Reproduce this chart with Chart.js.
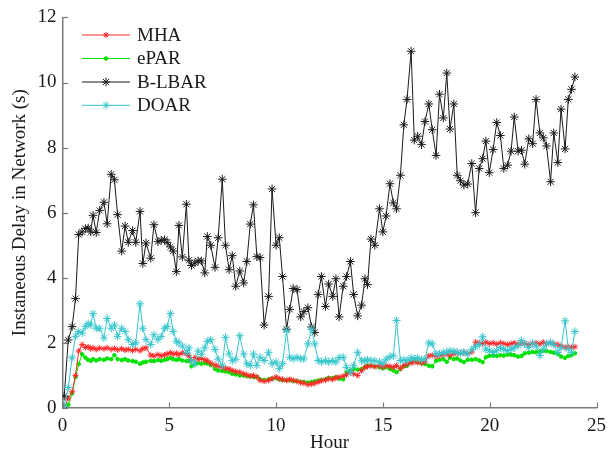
<!DOCTYPE html>
<html><head><meta charset="utf-8">
<script src="https://cdn.jsdelivr.net/npm/chart.js@4.4.0/dist/chart.umd.min.js"></script>
<style>html,body{margin:0;padding:0;background:#fff}#wrap{width:613px;height:457px;position:relative}</style>
</head><body><div id="wrap"><canvas id="c" width="613" height="457"></canvas></div>
<script>
const hours = [0.08,0.27,0.45,0.61,0.76,0.92,1.07,1.2,1.32,1.43,
1.58,1.74,1.94,2.09,2.28,2.43,2.58,2.77,2.93,3.08,
3.28,3.43,3.63,3.76,3.91,4.13,4.28,4.47,4.62,4.78,
4.9,5.05,5.18,5.33,5.45,5.61,5.8,5.92,6.04,6.2,
6.35,6.5,6.66,6.78,6.94,7.14,7.29,7.48,7.63,7.8,
7.95,8.11,8.3,8.48,8.63,8.79,8.94,9.1,9.25,9.44,
9.65,9.81,10.0,10.15,10.3,10.49,10.64,10.8,10.98,11.15,
11.3,11.49,11.66,11.81,11.97,12.12,12.31,12.46,12.65,12.8,
12.95,13.14,13.3,13.48,13.63,13.82,14.0,14.16,14.28,14.44,
14.62,14.84,15.0,15.15,15.33,15.49,15.64,15.82,15.98,16.13,
16.32,16.47,16.63,16.81,16.97,17.15,17.31,17.49,17.65,17.83,
17.99,18.14,18.32,18.48,18.63,18.79,18.97,19.16,19.34,19.51,
19.67,19.82,19.98,20.16,20.33,20.5,20.66,20.84,21.0,21.15,
21.33,21.49,21.64,21.83,22.01,22.17,22.35,22.51,22.66,22.85,
23.0,23.19,23.34,23.53,23.68,23.83,23.99];

const mha = [0.0,0.3,0.5,1.0,1.75,1.95,1.86,1.88,1.82,1.85,
1.8,1.84,1.82,1.85,1.8,1.83,1.79,1.82,1.78,1.8,
1.77,1.8,1.76,1.82,1.85,1.62,1.6,1.64,1.6,1.63,
1.66,1.7,1.65,1.68,1.64,1.7,1.66,1.6,1.45,1.55,
1.5,1.52,1.48,1.45,1.38,1.32,1.28,1.25,1.22,1.2,
1.15,1.12,1.1,1.05,1.02,0.98,1.0,0.95,0.85,0.82,
0.85,0.9,0.95,0.9,0.88,0.85,0.88,0.85,0.82,0.78,
0.76,0.72,0.74,0.76,0.8,0.84,0.86,0.9,0.88,0.92,
0.95,0.98,1.02,1.1,1.05,1.0,1.15,1.25,1.28,1.3,
1.27,1.3,1.26,1.3,1.28,1.25,1.3,1.22,1.3,1.35,
1.38,1.42,1.4,1.38,1.42,1.6,1.62,1.58,1.6,1.64,
1.66,1.62,1.66,1.7,1.68,1.7,1.68,1.72,2.02,2.0,
1.98,2.02,1.98,2.0,1.96,2.0,1.98,1.95,1.98,2.0,
1.96,2.0,1.98,1.95,1.98,2.0,1.97,2.02,1.98,2.0,
1.97,1.95,1.9,1.86,1.88,1.85,1.88];

const epar = [0.0,0.1,0.45,0.95,1.35,1.65,1.55,1.48,1.45,1.5,
1.46,1.5,1.48,1.52,1.5,1.62,1.5,1.47,1.5,1.46,
1.44,1.42,1.36,1.4,1.42,1.45,1.44,1.47,1.45,1.48,
1.5,1.54,1.5,1.48,1.5,1.46,1.44,1.45,1.28,1.36,
1.38,1.36,1.38,1.37,1.32,1.2,1.15,1.14,1.12,1.1,
1.05,1.03,1.0,1.0,0.98,0.97,0.95,0.96,0.88,0.86,
0.88,0.9,0.92,0.88,0.86,0.85,0.86,0.83,0.82,0.8,
0.8,0.78,0.8,0.82,0.84,0.86,0.88,0.92,0.92,0.95,
0.9,0.88,1.1,1.15,1.2,1.18,1.2,1.25,1.3,1.3,
1.28,1.25,1.22,1.25,1.2,1.15,1.1,1.2,1.28,1.3,
1.42,1.45,1.4,1.38,1.35,1.3,1.28,1.45,1.48,1.5,
1.42,1.55,1.5,1.52,1.46,1.41,1.48,1.48,1.5,1.46,
1.41,1.56,1.6,1.61,1.6,1.62,1.61,1.64,1.64,1.62,
1.58,1.6,1.68,1.7,1.72,1.71,1.74,1.76,1.75,1.72,
1.7,1.66,1.58,1.54,1.6,1.62,1.68];

const blbar = [0.36,2.09,2.5,3.36,5.33,5.41,5.51,5.53,5.41,5.92,
5.39,6.07,6.32,5.66,7.18,7.01,5.94,4.82,5.59,5.09,
5.45,5.09,6.04,4.44,5.07,4.6,5.63,5.11,5.15,5.17,
5.09,4.95,4.82,4.19,5.61,4.64,6.26,4.54,4.38,4.46,
4.52,4.52,4.15,5.27,5.0,4.32,5.23,7.03,5.0,4.25,
4.68,3.74,4.21,3.84,4.5,5.65,6.24,4.65,4.62,2.55,
3.43,6.73,5.0,5.23,4.04,2.42,3.03,3.67,3.64,2.8,
2.96,3.08,2.49,2.32,3.49,4.04,3.12,3.81,3.43,3.97,
2.8,3.74,4.04,4.5,3.49,2.83,3.16,3.97,3.79,5.19,
5.0,6.12,5.41,5.9,6.89,6.3,6.12,7.15,8.7,9.48,
10.96,8.23,8.35,8.09,8.8,9.34,8.55,7.76,9.64,8.91,
10.29,8.57,9.34,7.15,6.98,6.85,6.88,7.51,6.0,7.36,
7.66,8.2,7.23,7.94,8.77,8.37,7.36,7.46,7.89,8.94,
7.89,7.92,7.49,8.27,8.12,9.48,8.45,8.3,8.05,6.95,
8.45,7.54,9.18,7.96,9.48,9.79,10.17];

const doar = [0.05,0.63,1.54,2.2,2.35,2.3,2.5,2.6,2.55,2.9,
2.45,2.45,2.15,2.75,2.45,2.55,2.2,2.45,2.35,2.1,
1.95,2.0,3.2,2.45,2.1,1.95,2.25,2.1,2.2,2.45,
2.5,2.9,2.35,2.05,2.0,1.9,1.7,1.85,1.45,1.35,
1.75,1.65,1.85,2.05,2.1,1.8,1.5,1.3,2.17,1.66,
1.45,1.5,2.22,1.66,1.36,1.31,1.66,1.31,1.56,1.46,
1.71,1.36,1.41,1.21,1.36,2.37,1.56,1.51,1.56,1.51,
1.51,1.97,2.42,1.97,1.46,1.41,1.46,1.41,1.46,1.41,
1.55,1.56,1.25,1.1,1.3,1.71,1.45,1.45,1.48,1.46,
1.45,1.41,1.36,1.5,1.58,1.6,2.69,1.46,1.48,1.46,
1.54,1.51,1.54,1.48,1.51,2.0,1.97,1.66,1.66,1.71,
1.71,1.76,1.74,1.71,1.68,1.72,1.66,1.8,1.88,1.95,
2.19,1.81,1.76,1.71,1.76,1.86,1.8,1.76,1.81,1.85,
1.92,2.07,1.97,1.86,1.99,1.9,1.61,1.81,1.97,2.02,
1.95,1.71,1.86,2.68,1.81,1.71,2.35];

const seriesNames = ['MHA','ePAR','B-LBAR','DOAR'];
const xTicks = [0,5,10,15,20,25];
const yTicks = [0,2,4,6,8,10,12];
const xTitle = 'Hour';
const yTitle = 'Instaneous Delay in Network (s)';

const FONT = {family:"'Liberation Serif', 'Times New Roman', serif", size:19};
const AXIS = '#7a7a7a';
const TXT = '#1a1a1a';

function pts(arr){ return hours.map((h,i)=>({x:h,y:arr[i]})); }

const styles = [
  {color:'rgb(255,40,40)', pointStyle:'star', radius:3, order:2},
  {color:'rgb(0,225,0)', pointStyle:'circle', radius:1.8, order:3},
  {color:'#1a1a1a', pointStyle:'star', radius:4.3, order:1},
  {color:'rgb(55,198,204)', pointStyle:'star', radius:4, order:0}
];
const allData = [mha, epar, blbar, doar];

const datasets = allData.map((arr,i)=>({
  label: seriesNames[i],
  data: pts(arr),
  borderColor: styles[i].color,
  backgroundColor: styles[i].color,
  borderWidth: 1,
  pointStyle: styles[i].pointStyle,
  pointRadius: styles[i].radius,
  pointBorderWidth: 1,
  pointBorderColor: styles[i].color,
  pointBackgroundColor: styles[i].color,
  tension: 0,
  order: styles[i].order
}));

const inwardTicks = {
  id:'inwardTicks',
  afterDraw(chart){
    const ctx = chart.ctx, xs = chart.scales.x, ys = chart.scales.y;
    const a = chart.chartArea;
    ctx.save();
    ctx.strokeStyle = AXIS; ctx.lineWidth = 1.2;
    xTicks.forEach(v=>{ const px = Math.round(xs.getPixelForValue(v))+0.5;
      ctx.beginPath(); ctx.moveTo(px, a.bottom); ctx.lineTo(px, a.bottom-5.5); ctx.stroke(); });
    yTicks.forEach(v=>{ const py = Math.round(ys.getPixelForValue(v))+0.5;
      ctx.beginPath(); ctx.moveTo(a.left, py); ctx.lineTo(a.left+5.5, py); ctx.stroke(); });
    ctx.restore();
  }
};

const insideLegend = {
  id:'insideLegend',
  afterDraw(chart){
    const ctx = chart.ctx;
    const rows = [35, 58.5, 82, 105.3];
    ctx.save();
    chart.data.datasets.forEach((ds,i)=>{
      const y = rows[i];
      ctx.strokeStyle = ds.borderColor; ctx.lineWidth = 1;
      ctx.beginPath(); ctx.moveTo(82,y); ctx.lineTo(130,y); ctx.stroke();
      ctx.fillStyle = ds.pointBackgroundColor; ctx.strokeStyle = ds.pointBorderColor;
      Chart.helpers.drawPoint(ctx, {pointStyle: ds.pointStyle, radius: ds.pointRadius, rotation:0, borderWidth:1}, 106, y);
      ctx.fillStyle = TXT;
      ctx.font = Chart.helpers.toFont(FONT).string;
      ctx.textBaseline = 'middle'; ctx.textAlign = 'left';
      ctx.fillText(ds.label, 137, y+1);
    });
    ctx.restore();
  }
};

new Chart(document.getElementById('c'), {
  type:'line',
  data:{datasets},
  options:{
    responsive:false, animation:false,
    layout:{padding:{left:0,right:10,top:13,bottom:0}},
    plugins:{legend:{display:false}, tooltip:{enabled:false}},
    elements:{line:{borderWidth:1}},
    scales:{
      x:{type:'linear', min:0, max:25,
        afterBuildTicks: s=>{ s.ticks = xTicks.map(v=>({value:v})); },
        grid:{display:false, drawTicks:false},
        border:{display:true, color:AXIS, width:1.5},
        ticks:{font:FONT, color:TXT, padding:7, maxRotation:0, autoSkip:false},
        title:{display:true, text:xTitle, font:FONT, color:TXT, padding:{top:0,bottom:3}},
        afterFit: s=>{ s.height = 49; }
      },
      y:{type:'linear', min:0, max:12,
        afterBuildTicks: s=>{ s.ticks = yTicks.map(v=>({value:v})); },
        grid:{display:false, drawTicks:false},
        border:{display:true, color:AXIS, width:1.5},
        ticks:{font:FONT, color:TXT, padding:6, autoSkip:false},
        title:{display:true, text:yTitle, font:FONT, color:TXT, padding:{top:9,bottom:0}},
        afterFit: s=>{ s.width = 62.5; }
      }
    }
  },
  plugins:[inwardTicks, insideLegend]
});
</script>
</body></html>
